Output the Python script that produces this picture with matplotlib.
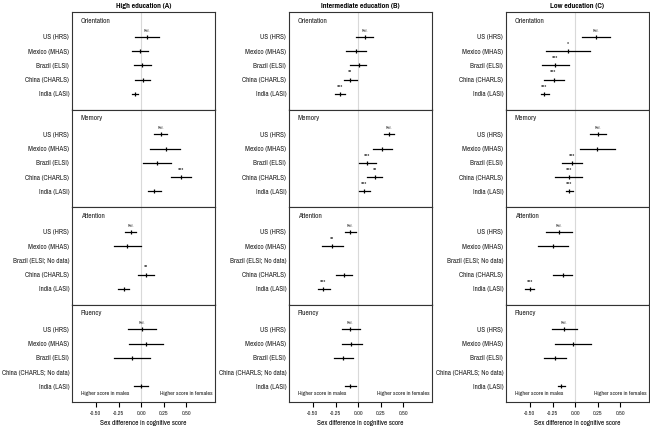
import numpy as np
import matplotlib.pyplot as plt
from matplotlib import font_manager as fm
from matplotlib.textpath import TextPath

# an Arial-Narrow-like face, first one that is installed
avail = {f.name for f in fm.fontManager.ttflist}
wanted = ['Liberation Sans Narrow', 'Arial Narrow', 'Arimo Narrow', 'Pragati Narrow',
          'Roboto Condensed', 'PT Sans Narrow', 'Archivo Narrow', 'Open Sans Condensed']
narrow = [n for n in wanted if n in avail]
plt.rcParams['font.family'] = narrow[:1] + ['Liberation Sans', 'DejaVu Sans']

nan = np.nan

countries = ["US (HRS)", "Mexico (MHAS)", "Brazil (ELSI)", "China (CHARLS)", "India (LASI)"]
domains = ["Orientation", "Memory", "Attention", "Fluency"]
titles = ["High education (A)", "Intermediate education (B)", "Low education (C)"]

# rows = domains, columns = countries
high_est = [[0.06, -0.01, 0.01, 0.02, -0.07],
            [0.22, 0.27, 0.17, 0.435, 0.14],
            [-0.115, -0.155, nan, 0.05, -0.19],
            [0.005, 0.05, -0.105, nan, 0.0]]
high_lo = [[-0.07, -0.10, -0.085, -0.065, -0.10],
           [0.145, 0.10, 0.02, 0.325, 0.08],
           [-0.175, -0.305, nan, -0.035, -0.255],
           [-0.15, -0.14, -0.30, nan, -0.075]]
high_hi = [[0.20, 0.08, 0.105, 0.10, -0.04],
           [0.285, 0.43, 0.325, 0.55, 0.22],
           [-0.055, 0.0, nan, 0.145, -0.135],
           [0.16, 0.245, 0.10, nan, 0.07]]
high_sig = [["Ref.", "", "", "", ""],
            ["Ref.", "", "", "***", ""],
            ["Ref.", "", "", "**", ""],
            ["Ref.", "", "", "", ""]]

mid_est = [[0.07, -0.025, 0.005, -0.09, -0.205],
           [0.335, 0.265, 0.10, 0.18, 0.06],
           [-0.09, -0.285, nan, -0.155, -0.385],
           [-0.09, -0.075, -0.165, nan, -0.09]]
mid_lo = [[-0.02, -0.135, -0.095, -0.155, -0.255],
          [0.285, 0.16, 0.005, 0.10, 0.005],
          [-0.145, -0.395, nan, -0.245, -0.45],
          [-0.175, -0.18, -0.265, nan, -0.145]]
mid_hi = [[0.16, 0.085, 0.085, -0.015, -0.145],
          [0.40, 0.37, 0.195, 0.265, 0.125],
          [-0.025, -0.17, nan, -0.065, -0.315],
          [0.015, 0.04, -0.06, nan, -0.025]]
mid_sig = [["Ref.", "", "", "**", "***"],
           ["Ref.", "", "***", "**", "***"],
           ["Ref.", "**", "", "", "***"],
           ["Ref.", "", "", "", ""]]

low_est = [[0.23, -0.08, -0.22, -0.24, -0.34],
           [0.255, 0.245, -0.04, -0.07, -0.065],
           [-0.18, -0.245, nan, -0.14, -0.505],
           [-0.12, -0.025, -0.225, nan, -0.155]]
low_lo = [[0.075, -0.32, -0.365, -0.35, -0.38],
          [0.16, 0.05, -0.15, -0.22, -0.105],
          [-0.32, -0.415, nan, -0.245, -0.55],
          [-0.26, -0.225, -0.345, nan, -0.195]]
low_hi = [[0.385, 0.16, -0.065, -0.125, -0.295],
          [0.345, 0.445, 0.075, 0.08, -0.02],
          [-0.035, -0.085, nan, -0.035, -0.46],
          [0.02, 0.175, -0.105, nan, -0.115]]
low_sig = [["Ref.", "*", "***", "***", "***"],
           ["Ref.", "", "***", "***", "***"],
           ["Ref.", "", "", "", "***"],
           ["Ref.", "", "", "", ""]]

xticks = [-0.5, -0.25, 0.0, 0.25, 0.5]
xticklabels = ["-0.50", "-0.25", "0.00", "0.25", "0.50"]

panels = [(high_est, high_lo, high_hi, high_sig),
          (mid_est, mid_lo, mid_hi, mid_sig),
          (low_est, low_lo, low_hi, low_sig)]


def fit_size(s, px, weight='normal', cap=9):
    # font size (pt) that makes string s about px pixels wide at 100 dpi
    prop = fm.FontProperties(family=plt.rcParams['font.family'], weight=weight)
    w = TextPath((0, 0), s, size=10, prop=prop).get_extents().width * 100 / 72
    return min(cap, 10 * px / w)


fs_label = min(fit_size("Mexico (MHAS)", 44), fit_size("China (CHARLS; No data)", 68))
fs_head = fit_size("Orientation", 29)
fs_title = fit_size("Intermediate education (B)", 78, weight='bold')
fs_tick = fit_size("-0.50", 11)
fs_xlab = fit_size("Sex difference in cognitive score", 86)
fs_note = fit_size("Higher score in females", 52)
fs_ref = fit_size("Ref.", 6)
fs_star = fit_size("***", 6)

W, H = 650, 434
fig = plt.figure(figsize=(W / 100, H / 100), dpi=100)

col_left = [72, 289, 506]
col_w = 142.5
top, bottom = 12, 402
row_h = (bottom - top) / 4
ypos = [5, 4, 3, 2, 1]

for c, (est, lo, hi, sig) in enumerate(panels):
    for r, dom in enumerate(domains):
        y0 = top + (r + 1) * row_h
        ax = fig.add_axes([col_left[c] / W, 1 - y0 / H, col_w / W, row_h / H])
        ax.set_xlim(-0.765, 0.81)
        ax.set_ylim(-0.1, 6.75)
        ax.axvline(0, color='#d9d9d9', lw=0.8, zorder=0)

        labels = []
        for i, name in enumerate(countries):
            e = est[r][i]
            if np.isnan(e):
                labels.append(name.replace(")", "; No data)"))
                continue
            labels.append(name)
            ax.plot([lo[r][i], hi[r][i]], [ypos[i], ypos[i]], color='black', lw=0.9)
            ax.plot(e, ypos[i], marker='|', ms=2.5, mew=0.9, color='black')
            s = sig[r][i]
            if s:
                ax.text(e, ypos[i] + 0.3, s, ha='center', va='bottom',
                        fontsize=fs_ref if s == "Ref." else fs_star, color='#333333')

        ax.set_yticks(ypos)
        ax.set_yticklabels(labels, fontsize=fs_label, color='#222222')
        ax.tick_params(axis='y', length=0, pad=2)
        ax.text(0.063, 0.91, dom, transform=ax.transAxes, fontsize=fs_head,
                va='center', ha='left', color='#222222')
        for sp in ax.spines.values():
            sp.set_linewidth(0.8)
            sp.set_color('#333333')

        if r == 0:
            ax.set_title(titles[c], fontsize=fs_title, fontweight='bold', pad=3)
        if r == 3:
            ax.set_xticks(xticks)
            ax.set_xticklabels(xticklabels, fontsize=fs_tick, color='#222222')
            ax.tick_params(axis='x', length=3.5, width=0.8, pad=3)
            ax.set_xlabel("Sex difference in cognitive score", fontsize=fs_xlab, labelpad=3)
            ax.text(0.063, 0.09, "Higher score in males", transform=ax.transAxes,
                    fontsize=fs_note, ha='left', va='center', color='#222222')
            ax.text(0.99, 0.09, "Higher score in females", transform=ax.transAxes,
                    fontsize=fs_note, ha='right', va='center', color='#222222')
        else:
            ax.set_xticks([])

fig.savefig('out.png', dpi=100)
